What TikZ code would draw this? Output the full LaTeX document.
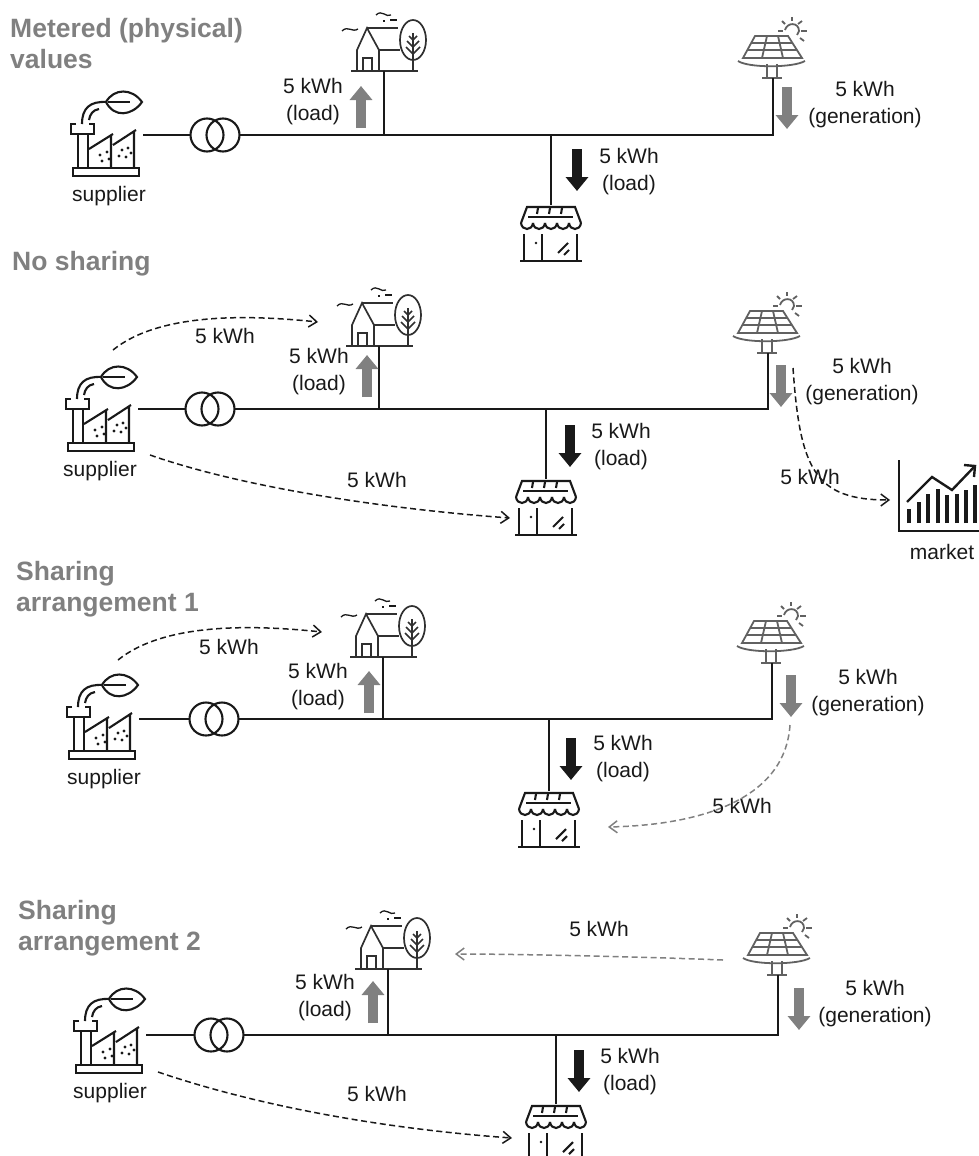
\documentclass[tikz,border=0pt]{standalone}
\usepackage{fontspec}
\setmainfont{Liberation Sans}
\usetikzlibrary{arrows.meta}

\definecolor{titlegray}{gray}{0.5}
\definecolor{panelgray}{gray}{0.38}
\definecolor{flowgray}{gray}{0.5}
\definecolor{inkblack}{gray}{0.1}

\tikzset{
  busline/.style={line width=2.2pt, inkblack},
  iconline/.style={line width=2.1pt, inkblack, line join=miter},
  thinicon/.style={line width=1.7pt, inkblack!90!white},
  paneltitle/.style={font=\fontsize{26.5}{31}\selectfont\bfseries, titlegray, anchor=west, align=left, inner sep=0pt},
  textlabel/.style={font=\fontsize{21}{27}\selectfont, inkblack, align=center, inner sep=0pt},
  power/.style={line width=10pt, -{Triangle[length=14pt,width=22pt]}},
  graypower/.style={power, flowgray},
  blackpower/.style={power, inkblack},
  flow/.style={line width=1.5pt, dash pattern=on 6pt off 3.5pt, -{Straight Barb[length=8pt,width=12pt]}, inkblack},
  grayflow/.style={flow, draw=flowgray},
  pics/factory/.style={code={
    \draw[iconline] (-33,-8) rectangle (33,0);
    \draw[iconline] (-28,-42) -- (-28,-8) (-18,-42) -- (-18,-8);
    \draw[iconline] (-30,-52) -- (-35,-52) -- (-35,-42) -- (-12,-42) -- (-12,-52) -- (-17,-52);
    \draw[iconline] (-24,-52) .. controls (-24,-68) and (-16,-75) .. (1,-74);
    \draw[iconline] (-17,-56) .. controls (-16,-62) and (-13,-66) .. (-7,-67);
    \draw[iconline] (0,-74) .. controls (8,-88) and (26,-88) .. (36,-74) .. controls (26,-60) and (8,-58) .. (0,-74);
    \draw[iconline] (2,-74) -- (24,-74);
    \draw[iconline] (-17,-27) -- (7,-42) (5,-41) -- (5,-8) (7,-31) -- (30,-46) (28,-45) -- (28,-8);
    \foreach \x/\y in {-6/-21, 1/-24, -4/-15, 3/-17, 16/-26, 22/-28, 13/-20, 20/-19, 25/-23} {
      \fill[inkblack] (\x,\y) circle (1.6pt);
    }
    \coordinate (-out) at (37,-42);
  }},
  pics/transformer/.style={code={
    \draw[iconline] (-8,0) circle (16.5pt) (8,0) circle (16.5pt);
    \coordinate (-west) at (-24.5,0);
    \coordinate (-east) at (24.5,0);
  }},
  pics/house/.style={code={
    \draw[thinicon] (-33,0) -- (34,0);
    \draw[thinicon] (-27,0) -- (-27,-21) -- (-17,-43) -- (-5,-21) -- (-5,0);
    \draw[thinicon] (-5,-21) -- (16,-21);
    \draw[thinicon] (-21,0) -- (-21,-13) -- (-12,-13) -- (-12,0);
    \draw[thinicon] (-17,-43) -- (14,-43);
    \draw[thinicon] (29,-31) ellipse (13pt and 20pt);
    \draw[thinicon] (29,0) -- (29,-38);
    \draw[thinicon] (22,-24) -- (29,-17) -- (36,-24) (23,-30) -- (29,-24) -- (35,-30) (25,-35) -- (29,-31) -- (33,-35);
    \draw[line width=1.3pt, inkblack] (-42,-40) .. controls (-36,-46) and (-32,-38) .. (-26,-42);
    \draw[line width=1.3pt, inkblack] (-8,-56) .. controls (-2,-62) and (2,-53) .. (7,-56);
    \draw[line width=1.3pt, inkblack] (-1,-50) -- (1,-50) (6,-51) -- (13,-51);
    \coordinate (-foot) at (0,0);
  }},
  pics/shop/.style={code={
    \draw[iconline] (-30,18) -- (-24,2) -- (24,2) -- (30,18);
    \draw[iconline] (-23,12) -- (22,12);
    \foreach \x in {-13,-1,11} {
      \draw[iconline] (\x,3) -- (\x-1,9);
    }
    \foreach \i in {0,...,4} {
      \draw[iconline] ({-30+12*\i},18) .. controls ({-29+12*\i},26) and ({-19+12*\i},26) .. ({-18+12*\i},18);
    }
    \draw[iconline] (-27,29) -- (-27,56) (26,29) -- (26,56) (-9,29) -- (-9,56);
    \draw[iconline] (-31,56) -- (31,56);
    \fill[inkblack] (-15,38) circle (1.3pt);
    \draw[iconline] (7,48) -- (17,38) (13,50) -- (18,45);
    \coordinate (-top) at (0,0);
  }},
  pics/solar/.style={code={
    \begin{scope}[line width=1.8pt, panelgray]
      \draw (-18,-42) -- (15,-42) -- (29,-20) -- (-30,-20) -- cycle;
      \draw (-22,-35) -- (20,-35) (-26,-28) -- (24,-28);
      \draw (-6,-42) -- (-11,-20) (5,-42) -- (10,-20);
      \draw (-35,-17) .. controls (-25,-10) and (20,-10) .. (32,-17);
      \draw (-6,-14) -- (-6,0) (4,-14) -- (4,0) (-11,0) -- (9,0);
      \draw (12,-48) .. controls (14,-56) and (26,-56) .. (26,-47) -- (24,-43);
      \foreach \xa/\ya/\xb/\yb in {19/-61/19/-57, 9/-57/12/-54, 29/-57/25/-54, 28/-47/34/-47, 27/-40/31/-37, 5/-47/10/-47} {
        \draw (\xa,\ya) -- (\xb,\yb);
      }
    \end{scope}
    \coordinate (-foot) at (0,0);
  }},
  pics/market/.style={code={
    \draw[line width=2.4pt, inkblack] (0,-71) -- (0,0) -- (80,0);
    \foreach \x/\y in {10/-22, 20/-29, 29/-37, 39/-42, 48/-36, 58/-37, 67/-41, 76/-46} {
      \draw[line width=3.4pt, inkblack] (\x,-8) -- (\x,\y);
    }
    \draw[line width=2.4pt, inkblack] (8,-29) -- (33,-54) -- (53,-41) -- (76,-65);
    \draw[line width=2.4pt, inkblack] (65,-66) -- (76,-65) -- (75,-54);
    \coordinate (-in) at (-9,-31);
  }}
}

\begin{document}
\begin{tikzpicture}[x=1pt, y=-1pt]
\useasboundingbox (0,0) rectangle (979,1156);

% Metered values
\node[paneltitle] (title1) at (10,44) {Metered (physical)\\values};
\pic (fa1) at (106,176) {factory};
\pic (tr1) at (215,135) {transformer};
\pic (ho1) at (384,71) {house};
\pic (sh1) at (551,205) {shop};
\pic (pv1) at (773,78) {solar};
\node[textlabel] (su1) at (109,196) {supplier};
\draw[busline] (fa1-out |- tr1-west) -- (tr1-west);
\draw[busline] (tr1-east) -- (pv1-foot |- tr1-east) -- (pv1-foot);
\draw[busline] (ho1-foot) -- (ho1-foot |- tr1-east);
\draw[busline] (sh1-top) -- (sh1-top |- tr1-east);
\coordinate (up1) at (361,128);
\coordinate (dn1) at (787,87);
\coordinate (bl1) at (577,149);
\draw[graypower] (up1) -- +(0,-42);
\draw[graypower] (dn1) -- +(0,42);
\draw[blackpower] (bl1) -- +(0,42);
\node[textlabel] (lo1) at (313,102) {5 kWh\\(load)};
\node[textlabel] (ge1) at (865,105) {5 kWh\\(generation)};
\node[textlabel] (ls1) at (629,172) {5 kWh\\(load)};

% No sharing
\node[paneltitle] (title2) at (12,264) {No sharing};
\pic (fa2) at (101,451) {factory};
\pic (tr2) at (210,409) {transformer};
\pic (ho2) at (379,346) {house};
\pic (sh2) at (546,479) {shop};
\pic (pv2) at (768,353) {solar};
\pic (ma2) at (899,531) {market};
\node[textlabel] (su2) at (100,471) {supplier};
\node[textlabel] (mk2) at (942,552) {market};
\draw[busline] (fa2-out |- tr2-west) -- (tr2-west);
\draw[busline] (tr2-east) -- (pv2-foot |- tr2-east) -- (pv2-foot);
\draw[busline] (ho2-foot) -- (ho2-foot |- tr2-east);
\draw[busline] (sh2-top) -- (sh2-top |- tr2-east);
\coordinate (up2) at (367,397);
\coordinate (dn2) at (781,365);
\coordinate (bl2) at (570,425);
\draw[graypower] (up2) -- +(0,-42);
\draw[graypower] (dn2) -- +(0,42);
\draw[blackpower] (bl2) -- +(0,42);
\node[textlabel] (lo2) at (319,372) {5 kWh\\(load)};
\node[textlabel] (ge2) at (862,382) {5 kWh\\(generation)};
\node[textlabel] (ls2) at (621,447) {5 kWh\\(load)};
\coordinate (sa2) at (113,350);
\coordinate (ha2) at (318,322);
\coordinate (sb2) at (150,455);
\coordinate (hb2) at (510,518);
\coordinate (gc2) at (793,368);
\draw[flow] (sa2) .. controls (160,312) and (250,315) .. (ha2);
\draw[flow] (sb2) .. controls (250,490) and (400,510) .. (hb2);
\draw[flow] (gc2) .. controls (800,470) and (815,500) .. (ma2-in);
\node[textlabel] (fa2l) at (225,336) {5 kWh};
\node[textlabel] (fb2l) at (377,480) {5 kWh};
\node[textlabel] (fc2l) at (810,477) {5 kWh};

% Sharing arrangement 1
\node[paneltitle] (title3) at (16,589) {Sharing\\arrangement 1};
\pic (fa3) at (102,759) {factory};
\pic (tr3) at (214,719) {transformer};
\pic (ho3) at (383,657) {house};
\pic (sh3) at (549,791) {shop};
\pic (pv3) at (772,663) {solar};
\node[textlabel] (su3) at (104,779) {supplier};
\draw[busline] (fa3-out |- tr3-west) -- (tr3-west);
\draw[busline] (tr3-east) -- (pv3-foot |- tr3-east) -- (pv3-foot);
\draw[busline] (ho3-foot) -- (ho3-foot |- tr3-east);
\draw[busline] (sh3-top) -- (sh3-top |- tr3-east);
\coordinate (up3) at (369,713);
\coordinate (dn3) at (791,675);
\coordinate (bl3) at (571,738);
\draw[graypower] (up3) -- +(0,-42);
\draw[graypower] (dn3) -- +(0,42);
\draw[blackpower] (bl3) -- +(0,42);
\node[textlabel] (lo3) at (318,687) {5 kWh\\(load)};
\node[textlabel] (ge3) at (868,693) {5 kWh\\(generation)};
\node[textlabel] (ls3) at (623,759) {5 kWh\\(load)};
\coordinate (sa3) at (118,660);
\coordinate (ha3) at (322,632);
\coordinate (gc3) at (790,725);
\coordinate (hc3) at (608,827);
\draw[flow] (sa3) .. controls (165,622) and (255,625) .. (ha3);
\draw[grayflow] (gc3) .. controls (785,800) and (700,825) .. (hc3);
\node[textlabel] (fa3l) at (229,647) {5 kWh};
\node[textlabel] (fc3l) at (742,806) {5 kWh};

% Sharing arrangement 2
\node[paneltitle] (title4) at (18,928) {Sharing\\arrangement 2};
\pic (fa4) at (109,1073) {factory};
\pic (tr4) at (219,1035) {transformer};
\pic (ho4) at (388,969) {house};
\pic (sh4) at (556,1104) {shop};
\pic (pv4) at (778,975) {solar};
\node[textlabel] (su4) at (110,1093) {supplier};
\draw[busline] (fa4-out |- tr4-west) -- (tr4-west);
\draw[busline] (tr4-east) -- (pv4-foot |- tr4-east) -- (pv4-foot);
\draw[busline] (ho4-foot) -- (ho4-foot |- tr4-east);
\draw[busline] (sh4-top) -- (sh4-top |- tr4-east);
\coordinate (up4) at (373,1023);
\coordinate (dn4) at (799,988);
\coordinate (bl4) at (579,1050);
\draw[graypower] (up4) -- +(0,-42);
\draw[graypower] (dn4) -- +(0,42);
\draw[blackpower] (bl4) -- +(0,42);
\node[textlabel] (lo4) at (325,998) {5 kWh\\(load)};
\node[textlabel] (ge4) at (875,1004) {5 kWh\\(generation)};
\node[textlabel] (ls4) at (630,1072) {5 kWh\\(load)};
\coordinate (gc4) at (723,960);
\coordinate (hc4) at (455,954);
\coordinate (sb4) at (158,1072);
\coordinate (hb4) at (512,1138);
\draw[grayflow] (gc4) .. controls (650,957) and (520,954) .. (hc4);
\draw[flow] (sb4) .. controls (270,1110) and (400,1130) .. (hb4);
\node[textlabel] (fc4l) at (599,929) {5 kWh};
\node[textlabel] (fb4l) at (377,1094) {5 kWh};

\end{tikzpicture}
\end{document}
